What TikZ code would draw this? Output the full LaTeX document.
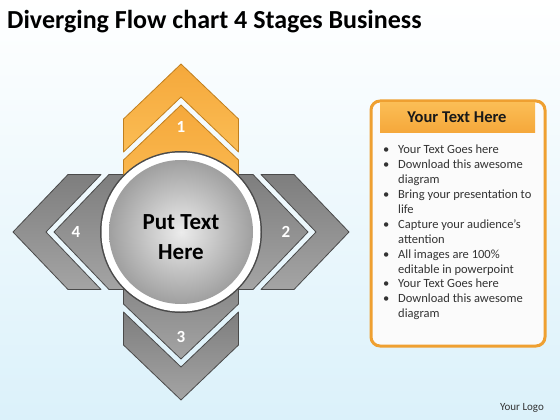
\documentclass[tikz,border=0pt]{standalone}
\usepackage{fontspec}
\setmainfont{Carlito}
\definecolor{orangeA}{HTML}{FBBD55}
\definecolor{orangeB}{HTML}{F5A83B}
\definecolor{orangeLine}{HTML}{C07F1E}
\definecolor{grayA}{HTML}{A4A4A4}
\definecolor{grayB}{HTML}{7E7E7E}
\definecolor{grayLine}{HTML}{4A4A4A}
\definecolor{skyBottom}{HTML}{DBF1FA}
\definecolor{panelLine}{HTML}{EFA031}
\definecolor{bodyText}{HTML}{333333}
\newcommand{\itm}[1]{\makebox[15pt][l]{\textbullet}#1}
\newcommand{\cnt}[1]{\hspace*{15pt}#1}
\begin{document}
\begin{tikzpicture}[x=1pt, y=-1pt, line join=round,
  stagenum/.style={text=white, font=\bfseries\fontsize{17}{17}\selectfont, inner sep=0pt}]
% background
\shade[top color=white, middle color=white, bottom color=skyBottom] (0,0) rectangle (560,420);
\node[anchor=base west, inner sep=0pt, font=\bfseries\fontsize{26}{26}\selectfont] (title) at (7,29) {Diverging Flow chart 4 Stages Business};
% four chevrons
\foreach \ang/\num/\ca/\cb/\ln in {0/2/grayA/grayB/grayLine, 270/3/grayA/grayB/grayLine, 180/4/grayA/grayB/grayLine, 90/1/orangeA/orangeB/orangeLine}{
  \begin{scope}[shift={(181,232)}, x=1pt, y=1pt, rotate=\ang-90]
    \draw[draw=\ln, line width=0.8pt, top color=\cb, bottom color=\ca] (-57.5,113) -- (0,168) -- (57.5,113) -- (57.5,80) -- (0,135) -- (-57.5,80) -- cycle;
    \draw[draw=\ln, line width=0.8pt, top color=\cb, bottom color=\ca] (-57.5,72) -- (0,127) -- (57.5,72) -- (57.5,30) -- (0,60) -- (-57.5,30) -- cycle;
  \end{scope}
  \path (181,232) ++(-\ang:105) node[stagenum] (n\num) {\num};
}
% hub
\fill[grayLine] (181,232) circle (81);
\fill[white] (181,232) circle (79.5);
\shade[inner color=gray!15, outer color=gray!75] (181,232) circle (72);
\node[align=center, inner sep=0pt, font=\bfseries\fontsize{23}{30}\selectfont] (hub) at (181,237) {Put Text\\Here};
% text panel
\draw[panelLine, line width=3pt, fill=gray!3, rounded corners=9pt] (371,101) rectangle (545,346);
\shade[top color=orangeA, bottom color=orangeB] (380,103) rectangle (535,132);
\node[font=\bfseries\fontsize{16.5}{16.5}\selectfont, text=black!90] (head) at (457,117) {Your Text Here};
\node[anchor=north west, inner sep=0pt, align=left, text=bodyText, font=\fontsize{12.5}{14.9}\selectfont] (items) at (383,145) {%
  \itm{Your Text Goes here}\\
  \itm{Download this awesome}\\
  \cnt{diagram}\\
  \itm{Bring your presentation to}\\
  \cnt{life}\\
  \itm{Capture your audience’s}\\
  \cnt{attention}\\
  \itm{All images are 100\%}\\
  \cnt{editable in powerpoint}\\
  \itm{Your Text Goes here}\\
  \itm{Download this awesome}\\
  \cnt{diagram}};
\node[text=bodyText, font=\fontsize{11}{11}\selectfont] (logo) at (522,408) {Your Logo};
\end{tikzpicture}
\end{document}
